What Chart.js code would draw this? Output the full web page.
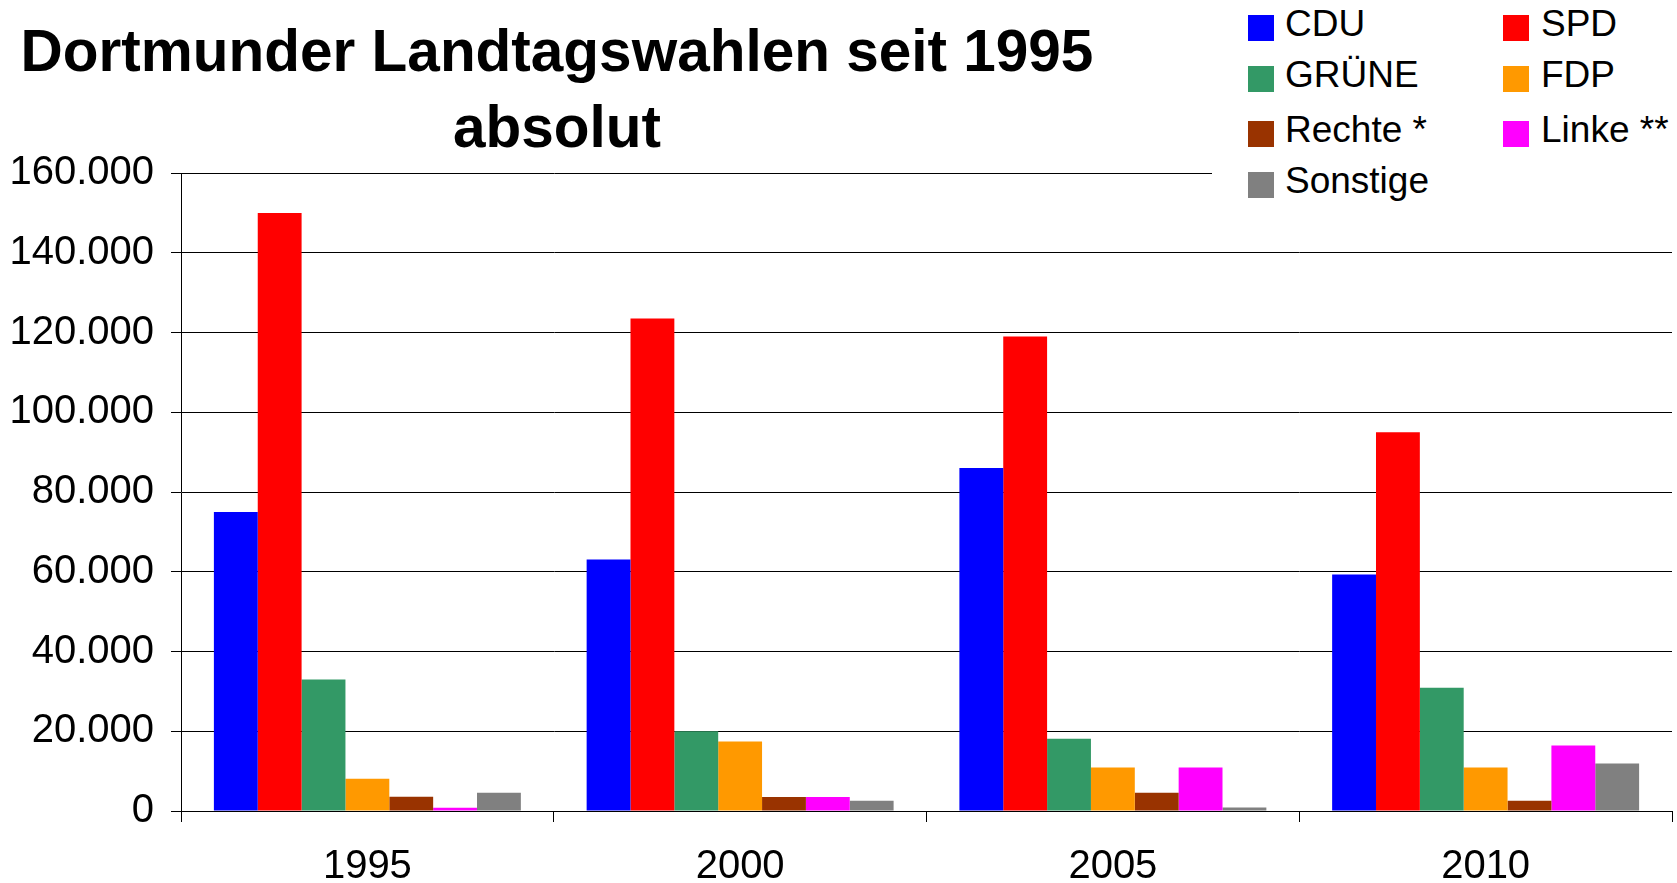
<!DOCTYPE html>
<html>
<head>
<meta charset="utf-8">
<script src="https://cdn.jsdelivr.net/npm/chart.js@4.4.0/dist/chart.umd.min.js"></script>
<style>
  html, body { margin: 0; padding: 0; background: #fff; }
  #wrap { position: relative; width: 1677px; height: 883px; font-family: "Liberation Sans", Arial, sans-serif; color: #000; }
  #chart { position: absolute; left: 0; top: 0; }
  .title { position: absolute; left: 0; width: 1114px; text-align: center; font-weight: bold; font-size: 58.5px; line-height: 58px; white-space: nowrap; }
  #legend { position: absolute; left: 1212px; top: 0; width: 465px; height: 208px; background: #fff; }
  .swatch { position: absolute; width: 26px; height: 26px; }
  .label { position: absolute; font-size: 37px; line-height: 37px; white-space: nowrap; }
</style>
</head>
<body>
<div id="wrap">
  <canvas id="chart" width="1677" height="883"></canvas>
  <div class="title" style="top:22px">Dortmunder Landtagswahlen seit 1995</div>
  <div class="title" style="top:98px">absolut</div>
  <div id="legend"></div>
</div>
<script>
const categories = ['1995', '2000', '2005', '2010'];
const parties = ['CDU', 'SPD', 'GRÜNE', 'FDP', 'Rechte *', 'Linke **', 'Sonstige'];
const colors = ['#0000ff', '#ff0000', '#339966', '#ff9900', '#993300', '#ff00ff', '#808080'];

const cdu = [75000, 63100, 86000, 59300];
const spd = [150000, 123500, 119000, 95000];
const gruene = [33000, 20000, 18100, 30900];
const fdp = [8100, 17400, 10900, 10900];
const rechte = [3600, 3500, 4600, 2600];
const linke = [830, 3500, 10900, 16400];
const sonstige = [4600, 2600, 900, 11900];

const yMax = 160000;
const yStep = 20000;

const series = [cdu, spd, gruene, fdp, rechte, linke, sonstige];
const fontFamily = '"Liberation Sans", Arial, sans-serif';

// legend: two columns, drawn as html over the top right of the plot
const legend = document.getElementById('legend');
const rowTops = [15, 66, 121, 172];
parties.forEach((name, i) => {
  const col = i % 2;
  const top = rowTops[Math.floor(i / 2)];
  const sw = document.createElement('div');
  sw.className = 'swatch';
  sw.style.left = (col ? 291 : 36) + 'px';
  sw.style.top = top + 'px';
  sw.style.background = colors[i];
  legend.appendChild(sw);
  const lb = document.createElement('div');
  lb.className = 'label';
  lb.style.left = (col ? 329 : 73) + 'px';
  lb.style.top = (top - 10) + 'px';
  lb.textContent = name;
  legend.appendChild(lb);
});

const thousands = v => String(v).replace(/\B(?=(\d{3})+(?!\d))/g, '.');

new Chart(document.getElementById('chart'), {
  type: 'bar',
  data: {
    labels: categories,
    datasets: series.map((values, i) => ({
      label: parties[i],
      data: values,
      backgroundColor: colors[i],
      borderWidth: 0,
    })),
  },
  options: {
    responsive: false,
    animation: false,
    layout: { padding: { top: 173, right: 5, left: 0, bottom: 0 } },
    datasets: { bar: { barPercentage: 1, categoryPercentage: 7 / 8.5 } },
    plugins: {
      legend: { display: false },
      title: { display: false },
      tooltip: { enabled: false },
    },
    scales: {
      x: {
        grid: { offset: true, drawOnChartArea: false, drawTicks: true, tickLength: 11, color: '#000' },
        border: { color: '#000', width: 1 },
        ticks: { color: '#000', font: { family: fontFamily, size: 40 }, padding: 21, maxRotation: 0 },
        afterFit: scale => { scale.height = 72; },
      },
      y: {
        min: 0,
        max: yMax,
        ticks: {
          stepSize: yStep,
          color: '#000',
          font: { family: fontFamily, size: 40 },
          padding: 17,
          callback: v => thousands(v),
        },
        grid: { color: '#000', lineWidth: 1, tickLength: 10 },
        border: { color: '#000', width: 1 },
        afterFit: scale => { scale.width = 181; },
      },
    },
  },
});
</script>
</body>
</html>
